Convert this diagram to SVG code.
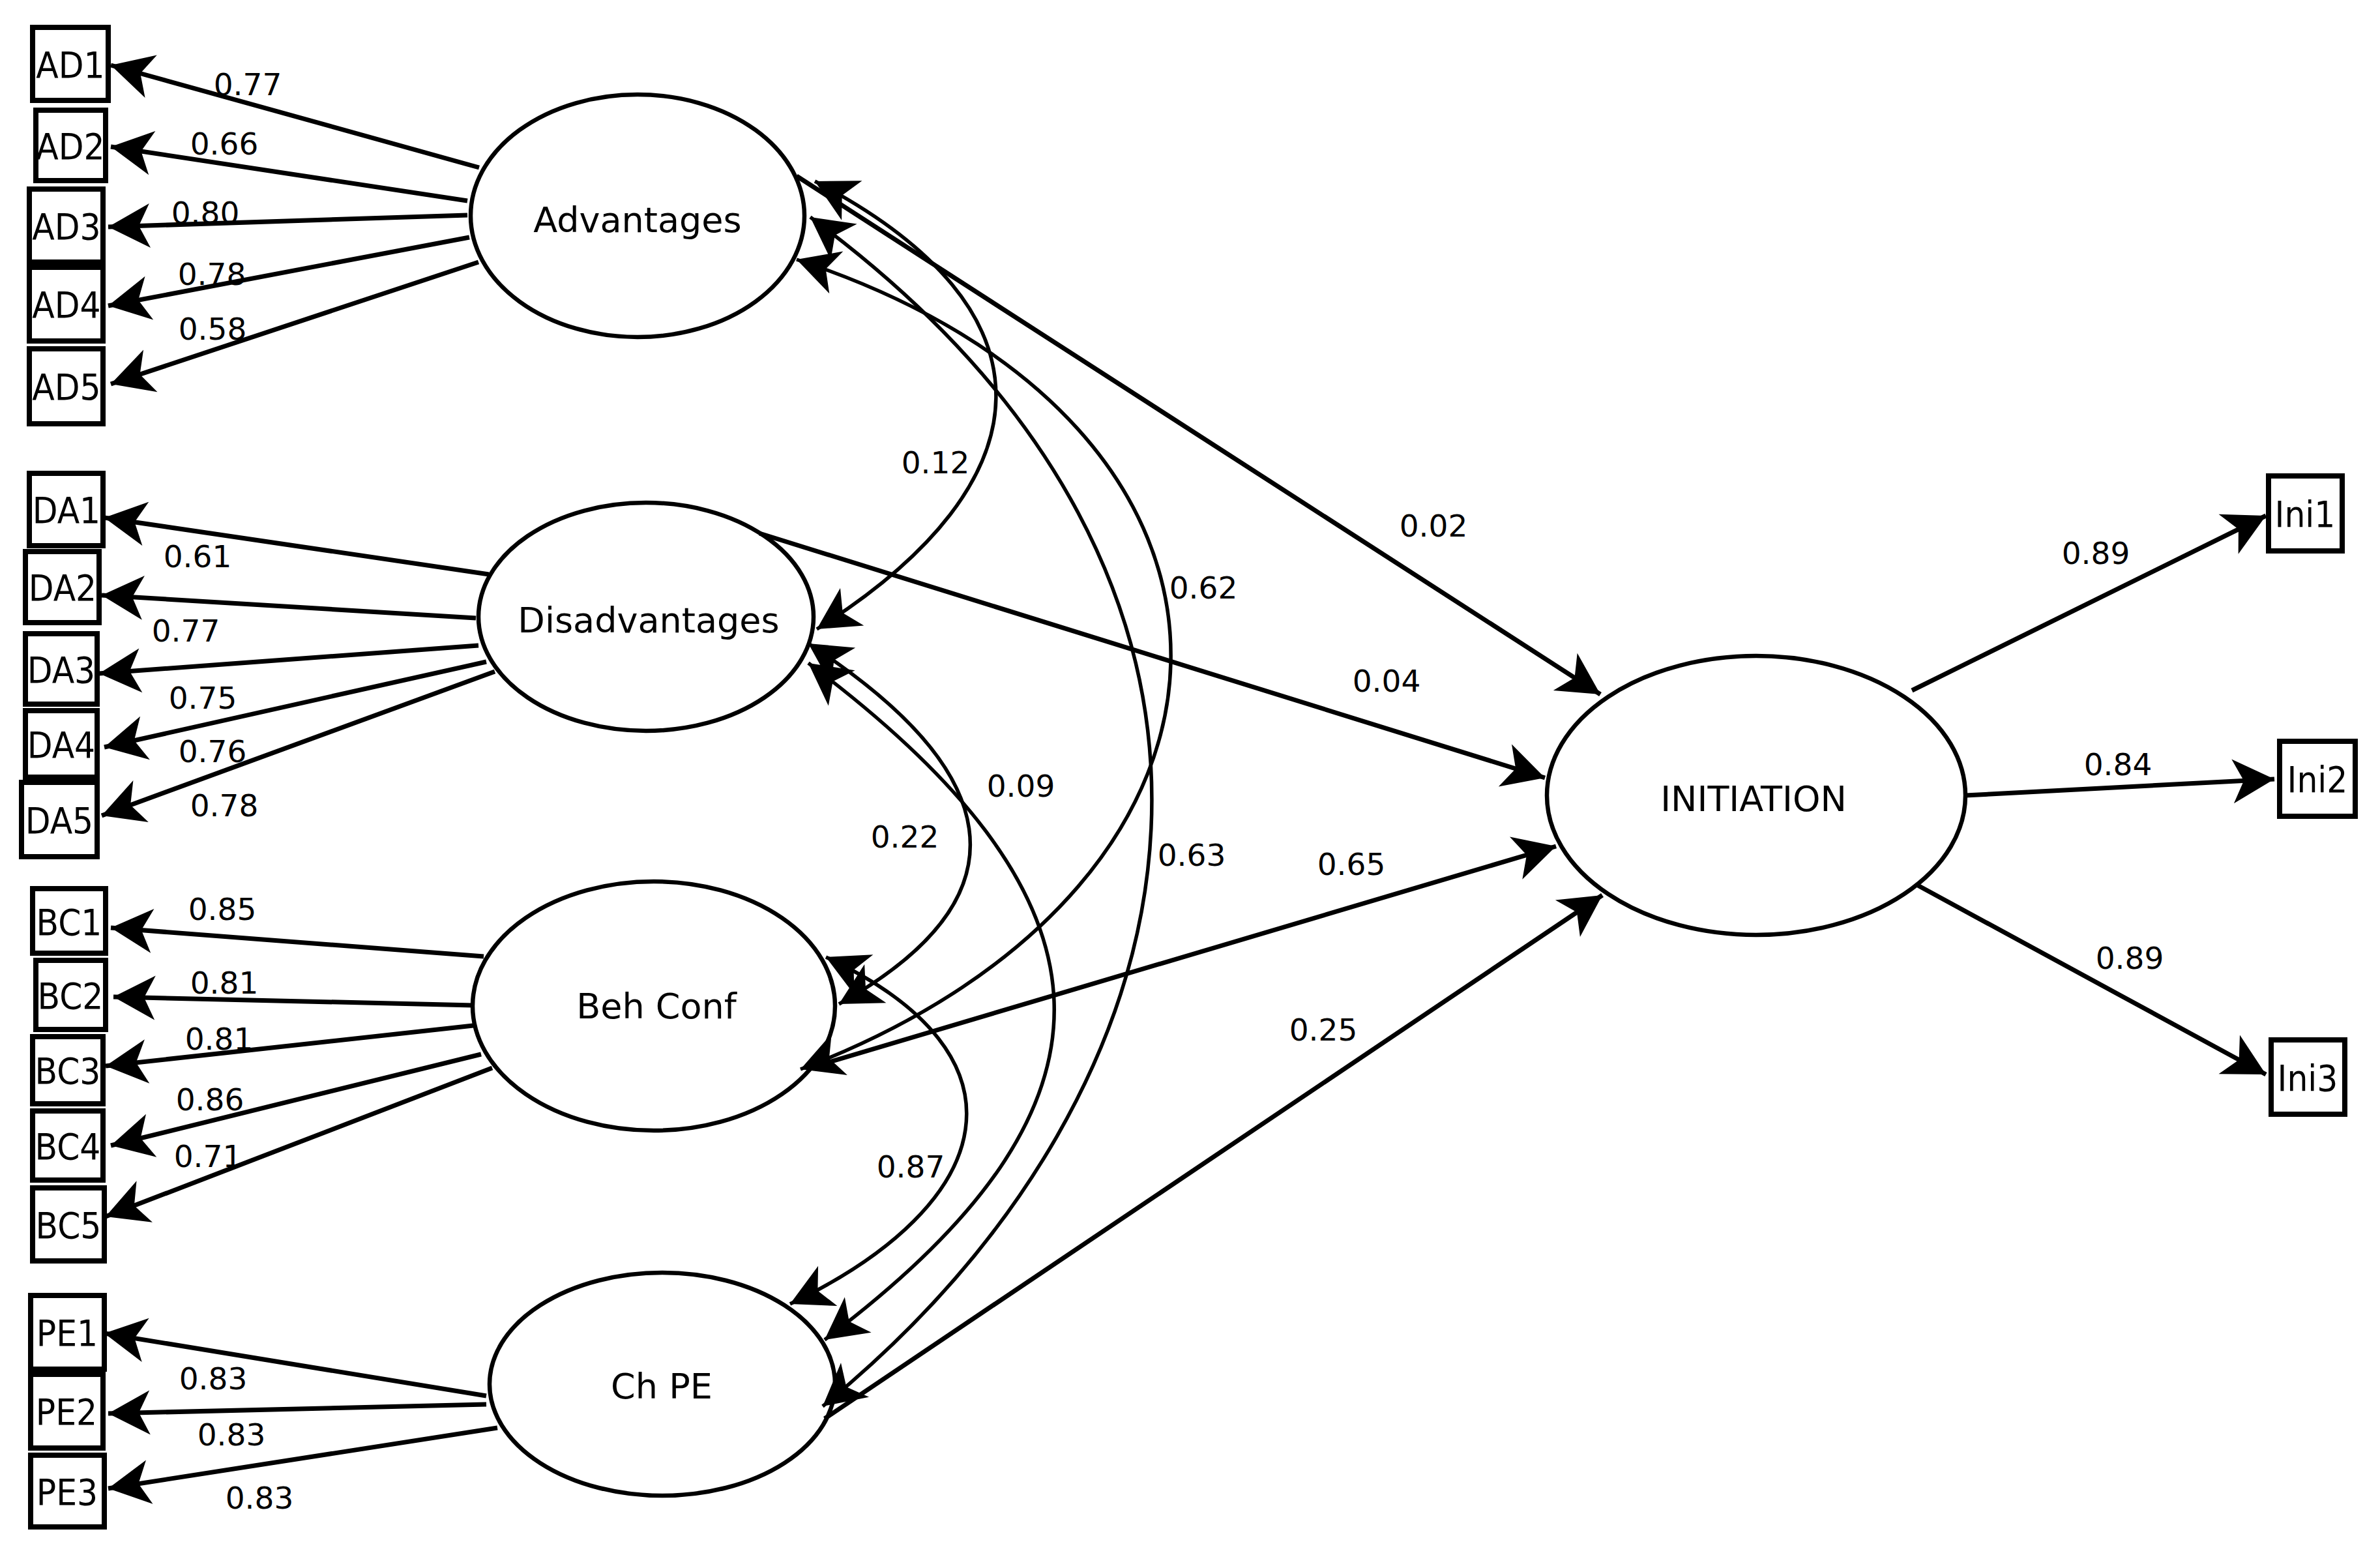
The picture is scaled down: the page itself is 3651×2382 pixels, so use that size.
<svg xmlns="http://www.w3.org/2000/svg" width="3651" height="2382" viewBox="0 0 3651 2382">
<style>
.bg{fill:#fff}
.box{fill:#fff;stroke:#000;stroke-width:8}
.lat{fill:#fff;stroke:#000;stroke-width:6.5}
.ld{stroke:#000;stroke-width:7;fill:none;marker-end:url(#ah)}
.cv{stroke:#000;stroke-width:5.5;fill:none;marker-start:url(#ah);marker-end:url(#ah)}
.num{font-family:"DejaVu Sans",Verdana,sans-serif;font-size:47px;text-anchor:middle;fill:#000}
.bl{font-family:"DejaVu Sans Condensed","DejaVu Sans",sans-serif;font-stretch:condensed;font-size:56px;text-anchor:middle;fill:#000}
.nl{font-family:"DejaVu Sans",Verdana,sans-serif;font-size:54px;text-anchor:middle;fill:#000}
</style>
<defs>
<marker id="ah" viewBox="-66 -36 68 72" refX="0" refY="0" markerWidth="68" markerHeight="72" markerUnits="userSpaceOnUse" orient="auto-start-reverse">
<path d="M0,0 L-64,-34 L-47,0 L-64,34 Z" fill="#000"/>
</marker>
</defs>
<rect class="bg" x="0" y="0" width="3651" height="2382"/>

<g id="AD1"><rect class="box" x="50" y="42" width="116" height="112"/><text class="bl" x="108" y="119">AD1</text></g>
<g id="AD2"><rect class="box" x="55" y="169" width="107" height="108"/><text class="bl" x="108" y="244">AD2</text></g>
<g id="AD3"><rect class="box" x="45" y="290" width="113" height="112"/><text class="bl" x="102" y="367">AD3</text></g>
<g id="AD4"><rect class="box" x="45" y="410" width="113" height="113"/><text class="bl" x="102" y="487">AD4</text></g>
<g id="AD5"><rect class="box" x="45" y="535" width="113" height="115"/><text class="bl" x="102" y="613">AD5</text></g>

<g id="DA1"><rect class="box" x="45" y="726" width="113" height="111"/><text class="bl" x="102" y="802">DA1</text></g>
<g id="DA2"><rect class="box" x="39" y="846" width="113" height="109"/><text class="bl" x="96" y="921">DA2</text></g>
<g id="DA3"><rect class="box" x="39" y="972" width="110" height="108"/><text class="bl" x="94" y="1047">DA3</text></g>
<g id="DA4"><rect class="box" x="39" y="1090" width="110" height="102"/><text class="bl" x="94" y="1162">DA4</text></g>
<g id="DA5"><rect class="box" x="33" y="1200" width="116" height="114"/><text class="bl" x="91" y="1278">DA5</text></g>

<g id="BC1"><rect class="box" x="50" y="1363" width="112" height="99"/><text class="bl" x="106" y="1434">BC1</text></g>
<g id="BC2"><rect class="box" x="55" y="1473" width="107" height="106"/><text class="bl" x="108" y="1547">BC2</text></g>
<g id="BC3"><rect class="box" x="50" y="1590" width="108" height="103"/><text class="bl" x="104" y="1662">BC3</text></g>
<g id="BC4"><rect class="box" x="50" y="1704" width="108" height="106"/><text class="bl" x="104" y="1778">BC4</text></g>
<g id="BC5"><rect class="box" x="50" y="1822" width="110" height="112"/><text class="bl" x="105" y="1899">BC5</text></g>

<g id="PE1"><rect class="box" x="47" y="1987" width="113" height="113"/><text class="bl" x="103" y="2064">PE1</text></g>
<g id="PE2"><rect class="box" x="47" y="2108" width="111" height="113"/><text class="bl" x="102" y="2185">PE2</text></g>
<g id="PE3"><rect class="box" x="47" y="2232" width="113" height="110"/><text class="bl" x="103" y="2308">PE3</text></g>

<g id="Ini1"><rect class="box" x="3480" y="730" width="113" height="115"/><text class="bl" x="3536" y="808">Ini1</text></g>
<g id="Ini2"><rect class="box" x="3497" y="1137" width="116" height="115"/><text class="bl" x="3555" y="1215">Ini2</text></g>
<g id="Ini3"><rect class="box" x="3484" y="1595" width="113" height="114"/><text class="bl" x="3540" y="1673">Ini3</text></g>

<g id="Advantages"><ellipse class="lat" cx="978" cy="331" rx="256" ry="186"/><text class="nl" x="978" y="356">Advantages</text></g>
<g id="Disadvantages"><ellipse class="lat" cx="991" cy="946" rx="257" ry="175"/><text class="nl" x="995" y="970">Disadvantages</text></g>
<g id="BehConf"><ellipse class="lat" cx="1003" cy="1543" rx="278" ry="191"/><text class="nl" x="1007" y="1562">Beh Conf</text></g>
<g id="ChPE"><ellipse class="lat" cx="1016" cy="2123" rx="265" ry="171"/><text class="nl" x="1015" y="2145">Ch PE</text></g>
<g id="INITIATION"><ellipse class="lat" cx="2694" cy="1220" rx="321" ry="214"/><text class="nl" x="2690" y="1244" font-size="56">INITIATION</text></g>

<g id="connectors">
<path class="ld" d="M735,257 L170,100"/>
<path class="ld" d="M717,308 L170,225"/>
<path class="ld" d="M717,330 L166,348"/>
<path class="ld" d="M720,364 L166,469"/>
<path class="ld" d="M734,402 L170,589"/>
<path class="ld" d="M750,881 L160,794"/>
<path class="ld" d="M730,948 L156,913"/>
<path class="ld" d="M734,990 L152,1033"/>
<path class="ld" d="M746,1015 L160,1146"/>
<path class="ld" d="M759,1030 L156,1251"/>
<path class="ld" d="M742,1467 L170,1423"/>
<path class="ld" d="M726,1542 L174,1529"/>
<path class="ld" d="M726,1573 L162,1635"/>
<path class="ld" d="M738,1617 L170,1757"/>
<path class="ld" d="M755,1638 L162,1866"/>
<path class="ld" d="M746,2141 L160,2045"/>
<path class="ld" d="M746,2154 L166,2168"/>
<path class="ld" d="M763,2190 L166,2283"/>
<path class="ld" d="M1222,270 L2455,1065"/>
<path class="ld" d="M1165,818 L2370,1193"/>
<path class="ld" d="M1262,1632 L2387,1298"/>
<path class="ld" d="M1265,2176 L2458,1373"/>
<path class="ld" d="M2933,1059 L3476,791"/>
<path class="ld" d="M3015,1220 L3489,1195"/>
<path class="ld" d="M2942,1358 L3476,1648"/>
<path class="cv" d="M1250,278 C1627,474 1613,738 1253,965"/>
<path class="cv" d="M1222,398 C1990,649 1983,1353 1228,1640"/>
<path class="cv" d="M1243,333 C2008,896 1866,1663 1262,2157"/>
<path class="cv" d="M1240,987 C1532,1177 1590,1370 1287,1540"/>
<path class="cv" d="M1240,1017 C1726,1381 1751,1691 1265,2055"/>
<path class="cv" d="M1267,1468 C1589,1618 1534,1846 1212,2000"/>
</g>

<g id="labels">
<text class="num" x="380" y="146">0.77</text>
<text class="num" x="344" y="237">0.66</text>
<text class="num" x="315" y="343">0.80</text>
<text class="num" x="325" y="437">0.78</text>
<text class="num" x="326" y="521">0.58</text>
<text class="num" x="303" y="870">0.61</text>
<text class="num" x="285" y="984">0.77</text>
<text class="num" x="311" y="1087">0.75</text>
<text class="num" x="326" y="1169">0.76</text>
<text class="num" x="344" y="1252">0.78</text>
<text class="num" x="341" y="1411">0.85</text>
<text class="num" x="344" y="1524">0.81</text>
<text class="num" x="336" y="1610">0.81</text>
<text class="num" x="322" y="1703">0.86</text>
<text class="num" x="319" y="1790">0.71</text>
<text class="num" x="327" y="2131">0.83</text>
<text class="num" x="355" y="2217">0.83</text>
<text class="num" x="398" y="2314">0.83</text>
<text class="num" x="2199" y="823">0.02</text>
<text class="num" x="2127" y="1061">0.04</text>
<text class="num" x="2073" y="1342">0.65</text>
<text class="num" x="2030" y="1596">0.25</text>
<text class="num" x="3215" y="865">0.89</text>
<text class="num" x="3249" y="1189">0.84</text>
<text class="num" x="3267" y="1486">0.89</text>
<text class="num" x="1435" y="726">0.12</text>
<text class="num" x="1846" y="918">0.62</text>
<text class="num" x="1566" y="1222">0.09</text>
<text class="num" x="1388" y="1300">0.22</text>
<text class="num" x="1828" y="1328">0.63</text>
<text class="num" x="1397" y="1806">0.87</text>
</g>
</svg>
